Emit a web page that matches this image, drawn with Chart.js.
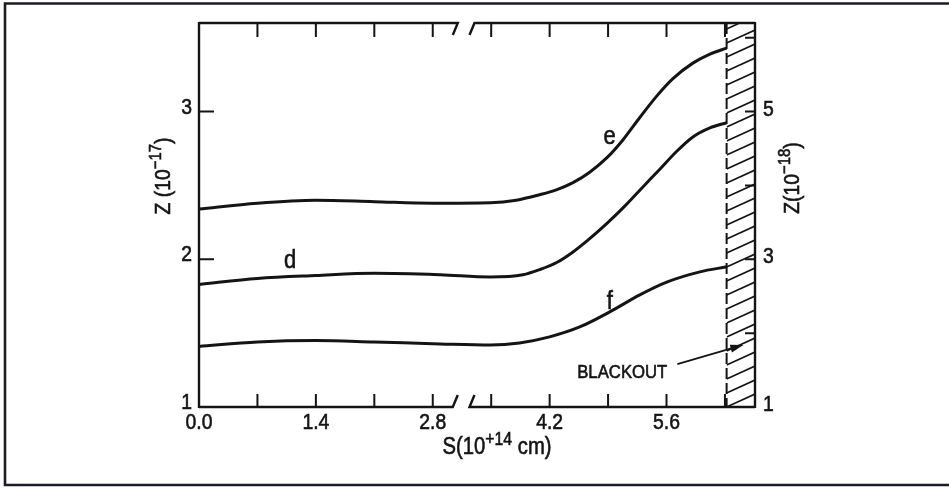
<!DOCTYPE html>
<html><head><meta charset="utf-8">
<script src="https://cdn.jsdelivr.net/npm/chart.js@4/dist/chart.umd.min.js"></script>
<style>html,body{margin:0;padding:0;background:#fff;overflow:hidden}canvas{display:block}</style>
</head><body>
<canvas id="c" width="949" height="491"></canvas>
<script>
// ---- data (S in 1e14 cm, Z on the left-axis scale) ----
const sE = [0, 0.7, 1.4, 2.1, 2.8, 3.49, 3.8, 4.08, 4.28, 4.48, 4.68, 4.89, 5.08, 5.28, 5.49, 5.68, 5.92, 6.12, 6.32];
const zE = [2.34, 2.38, 2.40, 2.39, 2.38, 2.383, 2.40, 2.437, 2.47, 2.519, 2.59, 2.69, 2.81, 2.96, 3.11, 3.225, 3.33, 3.39, 3.43];
const sD = [0, 0.7, 1.4, 2.1, 2.89, 3.49, 3.88, 4.08, 4.29, 4.48, 4.68, 4.89, 5.10, 5.30, 5.52, 5.72, 5.92, 6.12, 6.32];
const zD = [1.83, 1.87, 1.89, 1.905, 1.895, 1.88, 1.895, 1.93, 1.98, 2.05, 2.14, 2.245, 2.36, 2.48, 2.61, 2.73, 2.83, 2.89, 2.925];
const sF = [0, 0.7, 1.4, 2.1, 2.89, 3.49, 3.84, 4.20, 4.56, 4.92, 5.28, 5.61, 6.00, 6.32];
const zF = [1.41, 1.44, 1.45, 1.44, 1.427, 1.42, 1.434, 1.475, 1.542, 1.644, 1.759, 1.847, 1.915, 1.949];
const xTicks = [0.7, 1.4, 2.1, 2.8, 3.5, 4.2, 4.9, 5.6, 6.3];
const xTickLabels = ['0.0', '1.4', '2.8', '4.2', '5.6'];
const leftTicks = [2, 3];
const leftTickLabels = ['1', '2', '3'];
const rightTicks = [2, 3, 4, 5, 6];
const rightTickLabels = ['1', '3', '5'];
const axisBreak = [3.04, 3.24];
const blackoutStart = 6.32;
const curveLabels = [
  {t: 'e', x: 4.92, y: 2.83},
  {t: 'd', x: 1.09, y: 1.985},
  {t: 'f', x: 4.92, y: 1.71}
];
const blackoutLabel = {t: 'BLACKOUT', x: 5.07, y: 1.23};
const arrowFrom = {x: 5.73, y: 1.29};
const arrowTo = {x: 6.52, y: 1.42};

const FONT = '"Liberation Sans",Arial,sans-serif';
const INK = '#141414';
const SX = 0.88; // horizontal compression of the lettering

function mkSeries(xs, ys) { return xs.map((s, i) => ({x: s, y: ys[i]})); }

function drawText(ctx, str, x, y, size, align) {
  ctx.save();
  ctx.translate(x, y);
  ctx.scale(SX, 1);
  ctx.font = size + 'px ' + FONT;
  ctx.textAlign = align || 'center';
  ctx.textBaseline = 'middle';
  ctx.lineWidth = 0.6;
  ctx.fillText(str, 0, 0);
  ctx.strokeText(str, 0, 0);
  ctx.restore();
}

function drawRich(ctx, parts, cx, cy, size, rot) {
  ctx.save();
  ctx.translate(cx, cy);
  ctx.rotate(rot || 0);
  ctx.scale(SX, 1);
  const sup = Math.round(size * 0.78);
  let total = 0;
  const ws = parts.map(p => {
    ctx.font = (p.sup ? sup : size) + 'px ' + FONT;
    const w = ctx.measureText(p.t).width; total += w; return w;
  });
  let xx = -total / 2;
  ctx.textBaseline = 'middle'; ctx.textAlign = 'left'; ctx.lineWidth = 0.6;
  parts.forEach((p, i) => {
    ctx.font = (p.sup ? sup : size) + 'px ' + FONT;
    const yy = p.sup ? -size * 0.36 : 0;
    ctx.fillText(p.t, xx, yy); ctx.strokeText(p.t, xx, yy);
    xx += ws[i];
  });
  ctx.restore();
}

const deco = {
  id: 'deco',
  beforeDraw(chart) {
    const ctx = chart.ctx;
    ctx.save(); ctx.fillStyle = '#ffffff'; ctx.fillRect(0, 0, chart.width, chart.height); ctx.restore();
  },
  afterDatasetsDraw(chart) {
    const {ctx, chartArea: a, scales} = chart;
    const X = scales.x, Y = scales.y, Y2 = scales.y2;
    ctx.save();
    ctx.strokeStyle = INK; ctx.fillStyle = INK; ctx.lineCap = 'butt';

    // hatched blackout region
    const hx = X.getPixelForValue(blackoutStart);
    ctx.save();
    ctx.beginPath(); ctx.rect(hx, a.top, a.right - hx, a.bottom - a.top); ctx.clip();
    ctx.lineWidth = 1.6;
    for (let yy = a.bottom + 14; yy > a.top - 10; yy -= 14) {
      ctx.beginPath(); ctx.moveTo(hx, yy); ctx.lineTo(a.right, yy - 13); ctx.stroke();
    }
    ctx.restore();
    ctx.save();
    ctx.lineWidth = 2; ctx.setLineDash([11, 4]);
    ctx.beginPath(); ctx.moveTo(hx, a.top); ctx.lineTo(hx, a.bottom); ctx.stroke();
    ctx.restore();

    // axes frame with break
    ctx.lineWidth = 2.4;
    const b1 = X.getPixelForValue(axisBreak[0]), b2 = X.getPixelForValue(axisBreak[1]);
    const sdx = 5, sdy = 12;
    ctx.beginPath();
    ctx.moveTo(a.left, a.top - 1); ctx.lineTo(a.left, a.bottom + 1);
    ctx.moveTo(a.right, a.top - 1); ctx.lineTo(a.right, a.bottom + 1);
    ctx.moveTo(a.left, a.bottom); ctx.lineTo(b1, a.bottom); ctx.lineTo(b1 + sdx, a.bottom - sdy);
    ctx.moveTo(b2 + sdx, a.bottom - sdy); ctx.lineTo(b2, a.bottom); ctx.lineTo(a.right, a.bottom);
    ctx.moveTo(a.left, a.top); ctx.lineTo(b1 + sdx, a.top); ctx.lineTo(b1, a.top + sdy);
    ctx.moveTo(b2, a.top + sdy); ctx.lineTo(b2 + sdx, a.top); ctx.lineTo(a.right, a.top);
    ctx.stroke();

    // ticks
    ctx.lineWidth = 2;
    ctx.beginPath();
    xTicks.forEach(v => {
      const px = X.getPixelForValue(v);
      ctx.moveTo(px, a.bottom); ctx.lineTo(px, a.bottom - 13);
      ctx.moveTo(px, a.top); ctx.lineTo(px, a.top + 14);
    });
    leftTicks.forEach(v => {
      const py = Y.getPixelForValue(v);
      ctx.moveTo(a.left, py); ctx.lineTo(a.left + 15, py);
    });
    rightTicks.forEach(v => {
      const py = Y2.getPixelForValue(v);
      ctx.moveTo(a.right, py); ctx.lineTo(a.right - 10, py);
    });
    ctx.stroke();

    // tick labels
    xTickLabels.forEach(l => drawText(ctx, l, X.getPixelForValue(parseFloat(l)), a.bottom + 16, 22, 'center'));
    leftTickLabels.forEach(l => drawText(ctx, l, a.left - 7, Y.getPixelForValue(parseFloat(l)) - 4, 22, 'right'));
    rightTickLabels.forEach(l => drawText(ctx, l, a.right + 8, Y2.getPixelForValue(parseFloat(l)) - 2, 22, 'left'));

    // axis titles
    drawRich(ctx, [{t: 'Z (10'}, {t: '\u221217', sup: true}, {t: ')'}], a.left - 35, 176, 22, -Math.PI / 2);
    drawRich(ctx, [{t: 'Z(10'}, {t: '\u221218', sup: true}, {t: ')'}], a.right + 38, 178, 22, -Math.PI / 2);
    drawRich(ctx, [{t: 'S(10'}, {t: '+14', sup: true}, {t: ' cm)'}], 497, a.bottom + 41, 23, 0);

    // curve labels
    curveLabels.forEach(c => drawText(ctx, c.t, X.getPixelForValue(c.x), Y.getPixelForValue(c.y), 25, 'center'));
    drawText(ctx, blackoutLabel.t, X.getPixelForValue(blackoutLabel.x), Y.getPixelForValue(blackoutLabel.y), 19, 'center');

    // arrow
    const ax0 = X.getPixelForValue(arrowFrom.x), ay0 = Y.getPixelForValue(arrowFrom.y);
    const ax1 = X.getPixelForValue(arrowTo.x), ay1 = Y.getPixelForValue(arrowTo.y);
    const ang = Math.atan2(ay1 - ay0, ax1 - ax0);
    ctx.lineWidth = 1.8;
    ctx.beginPath(); ctx.moveTo(ax0, ay0); ctx.lineTo(ax1 - 8 * Math.cos(ang), ay1 - 8 * Math.sin(ang)); ctx.stroke();
    ctx.beginPath();
    ctx.moveTo(ax1, ay1);
    ctx.lineTo(ax1 - 13 * Math.cos(ang) + 4 * Math.sin(ang), ay1 - 13 * Math.sin(ang) - 4 * Math.cos(ang));
    ctx.lineTo(ax1 - 13 * Math.cos(ang) - 4 * Math.sin(ang), ay1 - 13 * Math.sin(ang) + 4 * Math.cos(ang));
    ctx.closePath(); ctx.fill();

    // outer page frame
    ctx.strokeStyle = '#1c1c28'; ctx.lineWidth = 2.6;
    ctx.beginPath();
    ctx.moveTo(chart.width, 3.5); ctx.lineTo(5, 3.5); ctx.lineTo(5, 485); ctx.lineTo(chart.width, 485);
    ctx.stroke();
    ctx.restore();
  }
};

const lineStyle = {borderColor: INK, borderWidth: 3, pointRadius: 0, fill: false, cubicInterpolationMode: 'monotone'};

new Chart(document.getElementById('c'), {
  type: 'line',
  data: {
    datasets: [
      Object.assign({label: 'e', data: mkSeries(sE, zE)}, lineStyle),
      Object.assign({label: 'd', data: mkSeries(sD, zD)}, lineStyle),
      Object.assign({label: 'f', data: mkSeries(sF, zF)}, lineStyle)
    ]
  },
  options: {
    responsive: false,
    animation: false,
    devicePixelRatio: 1,
    layout: {padding: {left: 199, right: 194, top: 23, bottom: 84}},
    plugins: {legend: {display: false}, tooltip: {enabled: false}},
    scales: {
      x: {type: 'linear', min: 0, max: 6.66, display: false},
      y: {type: 'linear', min: 1, max: 3.6, display: false},
      y2: {type: 'linear', min: 1, max: 6.2, display: false, position: 'right'}
    }
  },
  plugins: [deco]
});
</script>
</body></html>
